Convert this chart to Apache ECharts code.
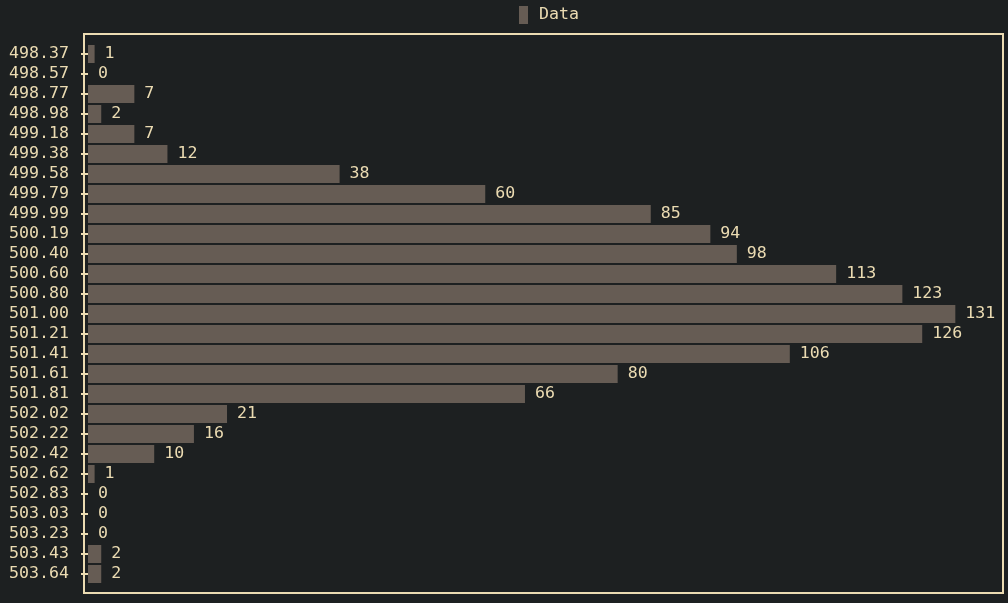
<!DOCTYPE html>
<html lang="en">
<head>
    <meta charset="UTF-8">
    <title>Data</title>
    <style>
        html, body { margin: 0; padding: 0; background: #1d2021; }
    </style>
</head>
<body>
    <div id="main" style="width:1008px;height:603px;"></div>
    <script src="https://cdn.jsdelivr.net/npm/echarts@6/dist/echarts.min.js"></script>
    <script>
        // bin centres (top to bottom) and counts
        var binLabels = ['498.37', '498.57', '498.77', '498.98', '499.18', '499.38', '499.58', '499.79', '499.99',
            '500.19', '500.40', '500.60', '500.80', '501.00', '501.21', '501.41', '501.61', '501.81', '502.02',
            '502.22', '502.42', '502.62', '502.83', '503.03', '503.23', '503.43', '503.64'];
        var counts = [1, 0, 7, 2, 7, 12, 38, 60, 85, 94, 98, 113, 123, 131, 126, 106, 80, 66, 21, 16, 10, 1, 0, 0, 0, 2, 2];

        var fg = '#ebdbb2';
        var barColor = '#665c54';
        var mono = 'DejaVu Sans Mono';

        var myChart = echarts.init(document.getElementById('main'));

        var option = {
            backgroundColor: '#1d2021',
            animation: false,
            legend: {
                left: 514,
                top: 1,
                itemWidth: 9,
                itemHeight: 18,
                icon: 'rect',
                textStyle: {
                    color: fg,
                    fontFamily: mono,
                    fontSize: 16.6,
                    padding: [0, 0, 0, 6]
                },
                data: ['Data']
            },
            grid: [{
                // outer frame
                left: 84,
                right: 5,
                top: 34,
                bottom: 10,
                show: true,
                borderColor: fg,
                borderWidth: 2,
                backgroundColor: 'transparent'
            }, {
                left: 83,
                right: 5,
                top: 44,
                height: 540
            }],
            xAxis: [{
                gridIndex: 0,
                type: 'value',
                show: false
            }, {
                gridIndex: 1,
                type: 'value',
                min: -0.755,
                max: 138.2,
                show: false
            }],
            yAxis: [{
                gridIndex: 0,
                type: 'value',
                show: false
            }, {
                gridIndex: 1,
                type: 'category',
                inverse: true,
                data: binLabels,
                axisLine: { show: false },
                axisTick: {
                    show: true,
                    interval: 0,
                    alignWithLabel: true,
                    length: 7,
                    lineStyle: { color: fg, width: 2 }
                },
                axisLabel: {
                    interval: 0,
                    color: fg,
                    fontFamily: mono,
                    fontSize: 16.6,
                    margin: 14
                },
                splitLine: { show: false }
            }],
            series: [{
                name: 'Data',
                type: 'bar',
                xAxisIndex: 1,
                yAxisIndex: 1,
                barWidth: 18,
                itemStyle: { color: barColor },
                label: {
                    show: true,
                    position: 'right',
                    distance: 10,
                    color: fg,
                    fontFamily: mono,
                    fontSize: 16.6
                },
                data: counts
            }]
        };
        myChart.setOption(option);
    </script>
</body>
</html>
